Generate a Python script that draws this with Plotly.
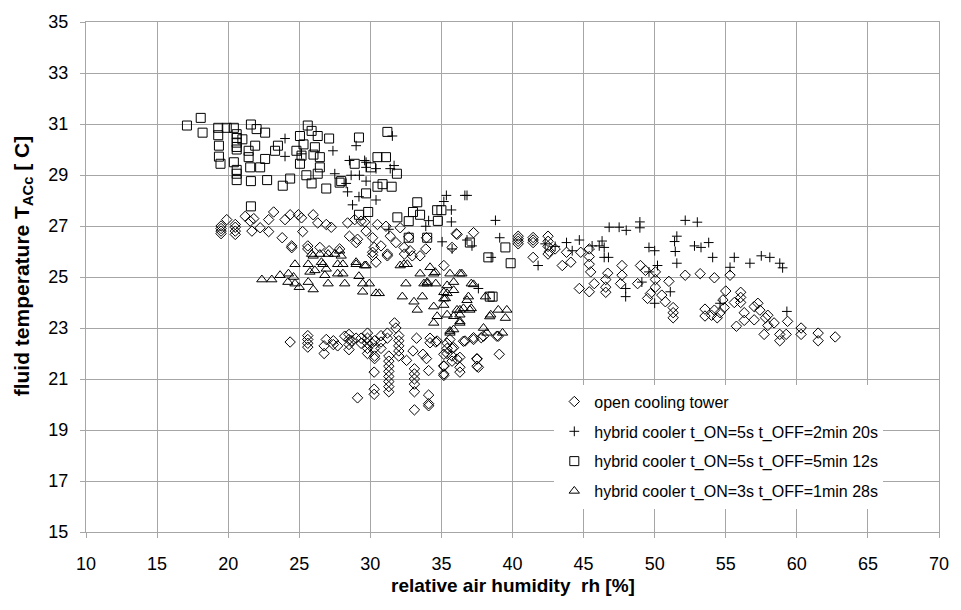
import plotly.graph_objects as go

# open cooling tower (diamonds)
oct_x = [19.5,19.5,19.5,19.5,19.9,20.5,20.5,20.5,20.5,21.2,21.55,21.8,21.67,22.25,22.85,23.2,22.85,23.8,24.0,24.36,24.47,24.47,24.94,25.16,25.24,25.98,26.3,26.9,27.25,25.6,25.6,26.45,27.1,27.84,28.4,28.9,29.35,28.53,29.1,29.0,29.7,29.6,30.16,30.27,30.5,31.1,31.4,31.8,32.1,32.4,32.8,31.2,30.16,30.16,30.75,30.4,31.2,32.37,32.7,32.95,33.5,33.9,33.95,35.17,35.75,36.05,37.26,36.1,
         40.4,40.4,40.4,40.4,41.45,41.45,41.45,41.45,42.5,42.5,42.5,42.6,42.5,43.0,43.5,44.1,43.8,44.8,45.4,45.4,45.4,45.5,44.7,45.4,45.75,46.56,46.56,46.56,46.7,47.7,47.7,47.6,48.8,49.0,49.35,50.05,50.05,50.05,49.5,49.7,50.5,51.0,50.75,51.3,51.3,51.3,52.15,53.2,54.2,55.3,55.0,56.05,56.05,56.05,53.54,53.54,54.0,54.2,54.4,54.6,54.9,54.8,55.6,55.75,56.3,56.3,57.0,57.26,57.7,57.96,57.96,58.4,58.8,58.8,59.25,59.35,60.3,60.3,61.5,61.5,62.7,57.0,57.4,57.8,
         24.36,25.6,25.6,25.6,25.6,26.75,26.75,26.9,27.4,27.4,27.7,28.2,28.5,28.5,28.5,28.5,28.7,29.0,29.35,29.35,29.8,29.8,29.8,29.8,29.8,30.1,30.3,30.3,30.3,30.3,30.75,30.75,30.75,31.2,31.2,31.3,31.3,31.3,31.3,31.3,31.3,31.3,31.3,31.7,31.8,32.0,32.0,32.0,32.0,32.0,30.27,30.27,30.27,29.1,32.55,33.1,33.1,33.1,33.1,33.1,33.1,33.0,33.25,33.7,34.1,34.1,34.1,34.1,34.2,34.6,34.2,33.95,35.17,35.17,35.4,35.4,35.4,35.75,35.75,35.75,36.1,36.55,36.3,37.5,37.5,37.26,37.96,39.0,39.07,
         34.7,35.6,35.17,35.86,36.3,36.66,37.26,37.5,37.6,37.8,38.9,35.17,35.17,36.3]
oct_y = [26.7,26.8,26.9,27.0,27.25,26.67,26.8,26.95,27.06,27.38,27.19,27.29,26.8,26.93,27.25,27.55,26.78,26.54,27.25,27.44,26.22,26.15,27.44,27.32,26.78,27.44,27.12,27.06,26.95,26.22,26.1,26.16,26.03,26.1,27.12,27.25,27.19,26.6,26.48,26.35,26.8,27.16,26.54,26.16,27.06,26.99,26.6,26.35,26.93,25.9,26.03,25.9,25.97,25.85,26.22,25.58,25.83,26.16,26.57,25.83,25.83,26.1,26.54,25.45,26.16,26.7,26.74,26.67,
         26.3,26.4,26.5,26.6,26.35,26.45,26.55,25.77,26.6,26.4,26.2,26.0,25.9,26.1,25.45,25.58,25.97,25.97,26.1,25.8,25.5,25.2,24.55,24.42,24.74,24.9,24.6,24.4,25.15,25.45,25.07,24.74,24.74,25.45,25.26,25.2,24.9,24.6,24.16,24.35,24.29,24.83,24.03,23.8,23.6,23.4,25.07,25.13,24.97,25.07,24.45,24.4,24.2,24.0,23.74,23.47,23.5,23.7,23.4,23.6,23.8,24.1,24.0,23.07,23.6,23.3,23.32,23.97,22.75,23.5,23.1,23.2,22.75,22.5,22.75,23.26,23.0,22.75,22.8,22.5,22.65,23.84,23.7,23.4,
         22.45,22.7,22.55,22.4,22.25,22.3,22.0,22.55,22.5,22.35,22.3,22.68,22.75,22.55,22.35,22.15,22.5,22.6,22.6,22.4,22.8,22.6,22.4,22.2,22.0,22.4,22.5,22.2,21.9,21.8,22.7,22.45,22.2,22.8,22.6,21.9,21.7,21.5,21.3,21.1,20.9,20.7,20.5,23.2,23.0,22.7,22.5,22.3,22.1,21.9,21.27,20.6,20.4,20.26,21.73,21.4,21.2,21.0,20.8,20.5,19.79,22.1,22.6,21.97,21.33,20.37,20.03,19.95,22.6,22.45,22.42,21.8,21.5,21.2,22.4,22.2,22.0,22.2,21.9,21.7,21.78,22.48,21.46,21.8,21.5,22.55,22.68,22.68,21.97,
         22.49,22.55,21.97,22.23,21.85,22.49,22.62,21.78,21.46,22.62,22.68,21.52,21.14,21.27]

# hybrid cooler t_ON=5s t_OFF=2min 20s (plus)
h1_x = [24.0,24.0,25.16,27.37,29.0,28.53,29.7,27.5,28.65,29.23,29.7,28.3,28.4,29.2,30.4,28.75,31.67,31.55,31.3,29.6,29.7,30.4,31.4,35.35,36.8,35.17,35.7,35.7,34.1,33.9,38.8,39.1,35.05,36.8,35.75,37.15,38.5,37.6,41.8,43.8,44.7,44.2,45.6,46.3,46.45,46.1,46.45,46.75,46.8,47.5,48.0,48.96,48.96,49.6,50.0,50.2,49.6,49.1,47.96,47.96,50.0,51.1,51.56,51.4,51.45,51.56,52.15,53.0,52.8,53.26,53.8,54.08,55.3,55.6,56.7,57.5,58.1,58.8,59.0,59.3,54.6,36.65,42.3,43.0]
h1_y = [30.43,29.73,29.83,29.95,30.15,29.57,29.5,29.05,28.99,28.99,28.76,28.67,28.34,28.15,28.02,27.83,29.37,30.53,26.87,29.57,29.3,29.25,29.25,28.2,28.2,27.96,27.63,27.16,27.21,26.99,27.22,26.54,26.38,26.45,26.1,26.22,25.77,24.55,25.45,26.35,26.45,26.03,26.22,26.41,26.16,26.22,25.77,25.77,26.95,26.95,26.83,27.16,26.93,26.16,26.03,25.45,25.2,24.8,24.55,24.23,23.97,24.42,26.6,26.39,26.0,25.54,27.22,27.15,26.22,26.16,26.35,25.77,25.38,25.77,25.54,25.83,25.77,25.54,25.36,23.65,23.97,28.2,26.3,26.2]

# hybrid cooler t_ON=5s t_OFF=5min 12s (squares)
h2_x = [17.1,18.07,18.2,19.3,19.3,19.9,20.4,20.6,20.6,20.6,20.6,20.6,19.35,19.35,19.46,20.4,20.6,20.6,20.6,21.6,21.6,22.0,22.6,21.9,21.44,21.44,21.55,22.25,22.6,22.74,23.3,23.5,23.84,24.36,21.6,25.05,25.6,25.87,26.3,27.1,24.8,25.16,25.05,25.5,25.87,26.1,26.45,26.45,26.3,26.9,27.84,28.9,29.2,29.7,30.05,30.5,31.1,31.2,31.87,30.86,31.5,30.5,27.95,33.3,33.0,33.5,34.7,35.0,34.75,29.2,29.85,31.9,32.7,34.0,32.7,37.0,39.5,38.3,39.87,38.4,38.6,25.3,26.0,21.0]
h2_y = [30.94,31.24,30.66,30.85,30.56,30.85,30.85,30.6,30.45,30.27,30.1,30.0,30.15,29.72,29.44,29.5,29.2,29.05,28.8,28.76,30.98,30.8,30.66,30.15,29.95,29.7,29.3,29.3,29.63,28.8,29.95,30.15,28.58,28.86,27.77,30.53,30.94,30.73,30.53,30.43,29.95,29.76,29.44,28.99,28.67,30.09,29.7,29.3,29.05,28.47,28.7,29.44,30.47,28.28,29.3,29.7,29.7,30.69,29.05,28.64,28.54,28.54,28.76,27.93,27.55,27.44,27.62,27.62,27.2,27.44,27.55,27.34,27.19,26.54,26.54,26.35,26.16,25.77,25.54,24.23,24.23,30.2,29.8,30.4]

# hybrid cooler t_ON=3s t_OFF=1min 28s (triangles)
h3_x = [22.37,23.07,23.65,24.24,24.2,24.6,24.7,25.63,25.98,25.63,26.1,25.75,26.56,26.9,26.8,27.03,27.7,28.07,27.5,27.95,28.2,28.07,29.0,29.6,29.2,29.46,29.93,29.46,30.4,30.63,24.7,25.98,27.03,32.25,32.1,32.6,32.5,33.07,33.3,33.66,34.0,33.5,34.46,34.6,34.46,34.7,34.46,35.17,35.17,35.17,35.4,35.86,35.6,36.3,36.3,35.86,35.4,35.6,35.86,36.3,36.3,36.55,37.1,36.9,37.26,38.1,38.47,39.0,39.6,39.5,37.96,38.2,39.3,35.28,35.4,33.77,34.2,34.56,36.44,35.86,37.1,36.8,36.1,37.0,36.3,35.6,38.4,25.87,26.45,27.84,26.67,27.7,29.0,29.7,32.37,25.0,34.0]
h3_y = [24.9,24.9,25.07,25.13,24.8,25.0,24.74,24.8,24.51,25.5,25.26,25.2,25.58,25.32,25.07,24.74,25.13,25.13,25.9,25.83,24.74,25.5,25.5,25.45,25.03,24.74,24.74,24.42,24.36,24.36,25.5,25.83,25.9,24.23,25.45,25.5,24.74,24.03,23.71,24.23,24.74,25.13,25.13,24.74,23.84,23.46,23.2,24.4,24.15,23.9,24.67,24.48,25.13,25.13,23.71,22.94,23.52,22.81,23.46,23.52,23.2,23.77,23.77,24.23,24.71,24.23,23.52,23.71,23.71,23.39,23.0,22.81,22.81,24.16,24.36,24.74,25.38,25.19,25.13,24.8,24.74,24.09,23.71,23.71,23.26,22.88,23.45,25.9,25.9,26.03,25.5,25.5,25.58,25.45,25.5,24.6,24.8]

series_names = ["open cooling tower",
                "hybrid cooler t_ON=5s t_OFF=2min 20s",
                "hybrid cooler t_ON=5s t_OFF=5min 12s",
                "hybrid cooler t_ON=3s t_OFF=1min 28s"]

x_ticks = list(range(10, 71, 5))
y_ticks = list(range(15, 36, 2))

FONT = "Liberation Sans, Arial, sans-serif"
GRID = "#a6a6a6"

fig = go.Figure()
specs = [
    (oct_x, oct_y, "diamond-open", 8),
    (h1_x, h1_y, "cross-thin-open", 7),
    (h2_x, h2_y, "square-open", 9),
    (h3_x, h3_y, "triangle-up-open", 9),
]
for i, ((xs, ys, sym, sz), name) in enumerate(zip(specs, series_names)):
    fig.add_trace(go.Scatter(
        x=xs, y=ys, mode="markers", name=name, legendgroup=str(i),
        marker=dict(symbol=sym, size=sz, color="#000000",
                    line=dict(color="#000000", width=1)),
    ))

fig.update_layout(
    width=961, height=610,
    margin=dict(l=86, r=15, t=14, b=78),
    paper_bgcolor="white", plot_bgcolor="white",
    font=dict(family=FONT, size=18, color="#000000"),
    showlegend=True,
    legend=dict(x=0.549, y=0.289, xanchor="left", yanchor="top",
                bgcolor="white", borderwidth=0,
                font=dict(family=FONT, size=16, color="#000000"),
                traceorder="grouped", tracegroupgap=6,
                itemwidth=30),
    xaxis=dict(range=[10, 70], tickvals=x_ticks, showgrid=True,
               gridcolor=GRID, gridwidth=1, zeroline=False,
               showline=True, linecolor=GRID, mirror=True,
               ticks="outside", ticklen=5, tickcolor=GRID,
               tickfont=dict(size=18), ticklabelstandoff=10),
    yaxis=dict(range=[15, 35], tickvals=y_ticks, showgrid=True,
               gridcolor=GRID, gridwidth=1, zeroline=False,
               showline=True, linecolor=GRID, mirror=True,
               ticks="outside", ticklen=5, tickcolor=GRID,
               tickfont=dict(size=18), ticklabelstandoff=8),
    annotations=[
        dict(text="<b>relative air humidity  rh [%]</b>", xref="paper", yref="paper",
             x=0.5, y=0, xanchor="center", yanchor="middle", yshift=-53,
             showarrow=False, font=dict(family=FONT, size=19, color="#000000")),
        dict(text="<b>fluid temperature T<sub>ACc</sub> [ C]</b>", xref="paper", yref="paper",
             x=0, y=0.521, xanchor="center", yanchor="middle", xshift=-63,
             textangle=-90, showarrow=False,
             font=dict(family=FONT, size=21, color="#000000")),
    ],
)

fig.write_html("out.html")
